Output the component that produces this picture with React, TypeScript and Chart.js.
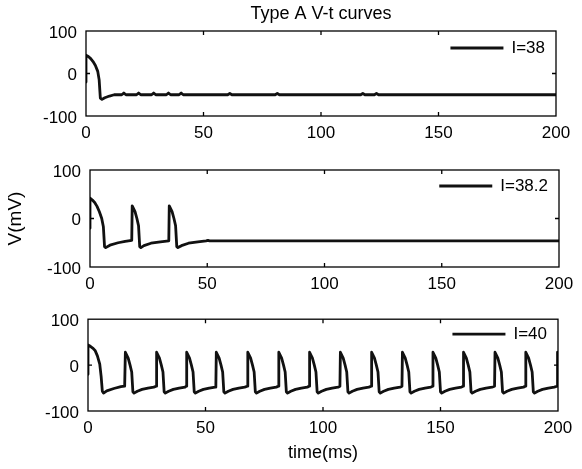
import React, { useEffect, useRef } from 'react';
import { Chart, registerables } from 'chart.js';

Chart.register(...registerables);

// ---------- data ----------
const TITLE = 'Type A V-t curves';
const X_LABEL = 'time(ms)';
const Y_LABEL = 'V(mV)';
const X_MIN = 0;
const X_MAX = 200;
const X_STEP = 50;
const Y_MIN = -100;
const Y_MAX = 100;
const Y_STEP = 100;

const LABEL_1 = 'I=38';
const T_1 = [0, 0, 1, 2, 3, 4, 5, 5.6, 6.1, 6.8, 8, 10, 12, 15.2, 16.1, 17.0, 21.5, 22.4, 23.3, 27.9, 28.8, 29.7, 34.2, 35.1, 36.0, 39.6, 40.5, 41.4, 60.3, 61.2, 62.1, 80.5, 81.4, 82.3, 116.9, 117.8, 118.7, 122.7, 123.6, 124.5, 200];
const V_1 = [-20, 43, 40, 35, 28, 19, 5, -15, -58, -61, -57, -53, -50, -50, -46, -50, -50, -46, -50, -50, -46, -50, -50, -46, -50, -50, -46, -50, -50, -47, -50, -50, -47, -50, -50, -47, -50, -50, -47, -50, -50];

const LABEL_2 = 'I=38.2';
const T_2 = [0, 0, 1, 2, 3, 4, 5, 5.7, 6.2, 6.7, 8.5, 12, 15, 17.8, 18.0, 19.2, 20.0, 20.7, 21.2, 21.7, 23, 26, 30, 33.6, 33.8, 35.0, 35.8, 36.5, 37.0, 37.5, 39, 42, 46, 49.5, 50.3, 51, 200];
const V_2 = [-20, 42, 38, 33, 25, 14, 0, -17, -58, -60, -55, -50, -47, -45, 26, 14, 0, -15, -58, -60, -56, -51, -48, -46, 26, 14, 0, -15, -58, -60, -56, -51, -48, -46, -45, -46, -46];

const LABEL_3 = 'I=40';
const T_3 = [
  0, 0, 1, 2, 3, 4, 5, 5.6, 6.1, 6.6, 8, 11, 14, 15.6,
  15.9, 17.1, 17.9, 18.6, 19.1, 19.6, 21.0, 23.0, 25.5, 28.0, 29.0,
  29.2, 30.4, 31.2, 31.9, 32.4, 32.9, 34.3, 36.3, 38.8, 41.3, 41.8,
  42.0, 43.2, 44.0, 44.7, 45.2, 45.7, 47.1, 49.1, 51.6, 54.1, 54.4,
  54.6, 55.8, 56.6, 57.3, 57.8, 58.3, 59.7, 61.7, 64.2, 66.7, 67.8,
  68.0, 69.2, 70.0, 70.7, 71.2, 71.7, 73.1, 75.1, 77.6, 80.1, 81.0,
  81.2, 82.4, 83.2, 83.9, 84.4, 84.9, 86.3, 88.3, 90.8, 93.3, 94.1,
  94.3, 95.5, 96.3, 97.0, 97.5, 98.0, 99.4, 101.4, 103.9, 106.4, 107.2,
  107.4, 108.6, 109.4, 110.1, 110.6, 111.1, 112.5, 114.5, 117.0, 119.5, 120.5,
  120.7, 121.9, 122.7, 123.4, 123.9, 124.4, 125.8, 127.8, 130.3, 132.8, 133.6,
  133.8, 135.0, 135.8, 136.5, 137.0, 137.5, 138.9, 140.9, 143.4, 145.9, 146.6,
  146.8, 148.0, 148.8, 149.5, 150.0, 150.5, 151.9, 153.9, 156.4, 158.9, 159.6,
  159.8, 161.0, 161.8, 162.5, 163.0, 163.5, 164.9, 166.9, 169.4, 171.9, 173.0,
  173.2, 174.4, 175.2, 175.9, 176.4, 176.9, 178.3, 180.3, 182.8, 185.3, 186.1,
  186.3, 187.5, 188.3, 189.0, 189.5, 190.0, 191.4, 193.4, 195.9, 198.4, 199.6,
  199.8,
];
const V_3 = [
  -20, 44, 41, 37, 32, 20, 2, -25, -57, -61, -56, -51, -47, -46,
  28, 15, 0, -15, -58, -61, -57, -53, -50, -48, -46,
  28, 15, 0, -15, -58, -61, -57, -53, -50, -48, -46,
  28, 15, 0, -15, -58, -61, -57, -53, -50, -48, -46,
  28, 15, 0, -15, -58, -61, -57, -53, -50, -48, -46,
  28, 15, 0, -15, -58, -61, -57, -53, -50, -48, -46,
  28, 15, 0, -15, -58, -61, -57, -53, -50, -48, -46,
  28, 15, 0, -15, -58, -61, -57, -53, -50, -48, -46,
  28, 15, 0, -15, -58, -61, -57, -53, -50, -48, -46,
  28, 15, 0, -15, -58, -61, -57, -53, -50, -48, -46,
  28, 15, 0, -15, -58, -61, -57, -53, -50, -48, -46,
  28, 15, 0, -15, -58, -61, -57, -53, -50, -48, -46,
  28, 15, 0, -15, -58, -61, -57, -53, -50, -48, -46,
  28, 15, 0, -15, -58, -61, -57, -53, -50, -48, -46,
  28, 15, 0, -15, -58, -61, -57, -53, -50, -48, -46,
  28,
];

// ---------- styling / layout ----------
const FONT = '"Liberation Sans", Arial, Helvetica, sans-serif';
const INK = '#000';
const LINE = '#111';
const LINE_W = 2.8;
const TICK_SIZE = 17;
const LABEL_SIZE = 18;
const YLABEL_SIZE = 19;

type PanelCfg = {
  label: string;
  t: number[];
  v: number[];
  top: number;
  height: number;
  axisLeft: number;
  padTop: number;
  padRight: number;
  xAxisH: number;
  legendDy: number;
  title: boolean;
  yTitle: boolean;
  xTitle: boolean;
};

const PANELS: PanelCfg[] = [
  { label: LABEL_1, t: T_1, v: V_1, top: 0, height: 150, axisLeft: 86, padTop: 0, padRight: 26, xAxisH: 34, legendDy: 17, title: true, yTitle: false, xTitle: false },
  { label: LABEL_2, t: T_2, v: V_2, top: 140, height: 165, axisLeft: 90, padTop: 30, padRight: 23, xAxisH: 38, legendDy: 16, title: false, yTitle: true, xTitle: false },
  { label: LABEL_3, t: T_3, v: V_3, top: 300, height: 169, axisLeft: 88, padTop: 19, padRight: 24, xAxisH: 58, legendDy: 15, title: false, yTitle: false, xTitle: true },
];

const framePlugin = (label: string, legendDy: number) => ({
  id: 'frameLegend',
  afterDatasetsDraw(chart: any) {
    const { ctx, chartArea: a, scales } = chart;
    const xs = scales.x;
    const ys = scales.y;
    ctx.save();
    ctx.strokeStyle = INK;
    ctx.lineWidth = 1.3;
    ctx.strokeRect(a.left, a.top, a.right - a.left, a.bottom - a.top);
    // inward ticks
    const tl = 4;
    ctx.beginPath();
    xs.ticks.forEach((tk: any) => {
      if (tk.value <= X_MIN || tk.value >= X_MAX) return;
      const px = xs.getPixelForValue(tk.value);
      ctx.moveTo(px, a.bottom);
      ctx.lineTo(px, a.bottom - tl);
      ctx.moveTo(px, a.top);
      ctx.lineTo(px, a.top + tl);
    });
    ys.ticks.forEach((tk: any) => {
      if (tk.value <= Y_MIN || tk.value >= Y_MAX) return;
      const py = ys.getPixelForValue(tk.value);
      ctx.moveTo(a.left, py);
      ctx.lineTo(a.left + tl, py);
      ctx.moveTo(a.right, py);
      ctx.lineTo(a.right - tl, py);
    });
    ctx.stroke();
    // legend (line sample + label, inside top-right)
    ctx.font = `${TICK_SIZE}px ${FONT}`;
    ctx.fillStyle = INK;
    ctx.textBaseline = 'middle';
    ctx.textAlign = 'right';
    const ty = a.top + legendDy;
    const textRight = a.right - 11;
    ctx.fillText(label, textRight, ty);
    const tw = ctx.measureText(label).width;
    const lineEnd = textRight - tw - 8;
    ctx.strokeStyle = LINE;
    ctx.lineWidth = LINE_W;
    ctx.beginPath();
    ctx.moveTo(lineEnd - 53, ty);
    ctx.lineTo(lineEnd, ty);
    ctx.stroke();
    ctx.restore();
  },
});

function Panel({ cfg }: { cfg: PanelCfg }) {
  const ref = useRef<HTMLCanvasElement>(null);
  useEffect(() => {
    if (!ref.current) return;
    const points = cfg.t.map((t, i) => ({ x: t, y: cfg.v[i] }));
    const chart = new Chart(ref.current, {
      type: 'line',
      data: {
        datasets: [
          {
            label: cfg.label,
            data: points,
            borderColor: LINE,
            borderWidth: LINE_W,
            pointRadius: 0,
            tension: 0,
            fill: false,
            borderJoinStyle: 'round',
            borderCapStyle: 'round',
          },
        ],
      },
      options: {
        responsive: false,
        maintainAspectRatio: false,
        animation: false,
        devicePixelRatio: 1,
        layout: { padding: { left: 0, right: cfg.padRight, top: cfg.padTop, bottom: 0 } },
        plugins: {
          legend: { display: false },
          tooltip: { enabled: false },
          title: {
            display: cfg.title,
            text: TITLE,
            fullSize: false,
            color: INK,
            font: { family: FONT, size: LABEL_SIZE, weight: 'normal' },
            padding: { top: 3, bottom: 6.4 },
          },
        },
        scales: {
          x: {
            type: 'linear',
            min: X_MIN,
            max: X_MAX,
            grid: { display: false, drawTicks: false },
            border: { display: false },
            ticks: {
              stepSize: X_STEP,
              padding: 7,
              color: INK,
              maxRotation: 0,
              font: { family: FONT, size: TICK_SIZE },
            },
            title: {
              display: cfg.xTitle,
              text: X_LABEL,
              color: INK,
              font: { family: FONT, size: LABEL_SIZE },
              padding: { top: 0, bottom: 5.5 },
            },
            afterFit: (s: any) => {
              s.height = cfg.xAxisH;
            },
          },
          y: {
            type: 'linear',
            min: Y_MIN,
            max: Y_MAX,
            grid: { display: false, drawTicks: false },
            border: { display: false },
            ticks: {
              stepSize: Y_STEP,
              padding: 9,
              labelOffset: 2,
              color: INK,
              font: { family: FONT, size: TICK_SIZE },
            },
            title: {
              display: cfg.yTitle,
              text: Y_LABEL,
              color: INK,
              font: { family: FONT, size: YLABEL_SIZE },
              padding: { top: 4, bottom: 0 },
            },
            afterFit: (s: any) => {
              s.width = cfg.axisLeft;
            },
          },
        },
      },
      plugins: [framePlugin(cfg.label, cfg.legendDy)],
    } as any);
    return () => chart.destroy();
  }, [cfg]);
  return (
    <canvas
      ref={ref}
      width={582}
      height={cfg.height}
      style={{ position: 'absolute', left: 0, top: cfg.top, display: 'block', width: 582, height: cfg.height }}
    />
  );
}

export default function App() {
  return (
    <div style={{ position: 'absolute', left: 0, top: 0, width: 582, height: 469, background: '#fff', overflow: 'hidden' }}>
      {PANELS.map((p) => (
        <Panel key={p.label} cfg={p} />
      ))}
    </div>
  );
}
